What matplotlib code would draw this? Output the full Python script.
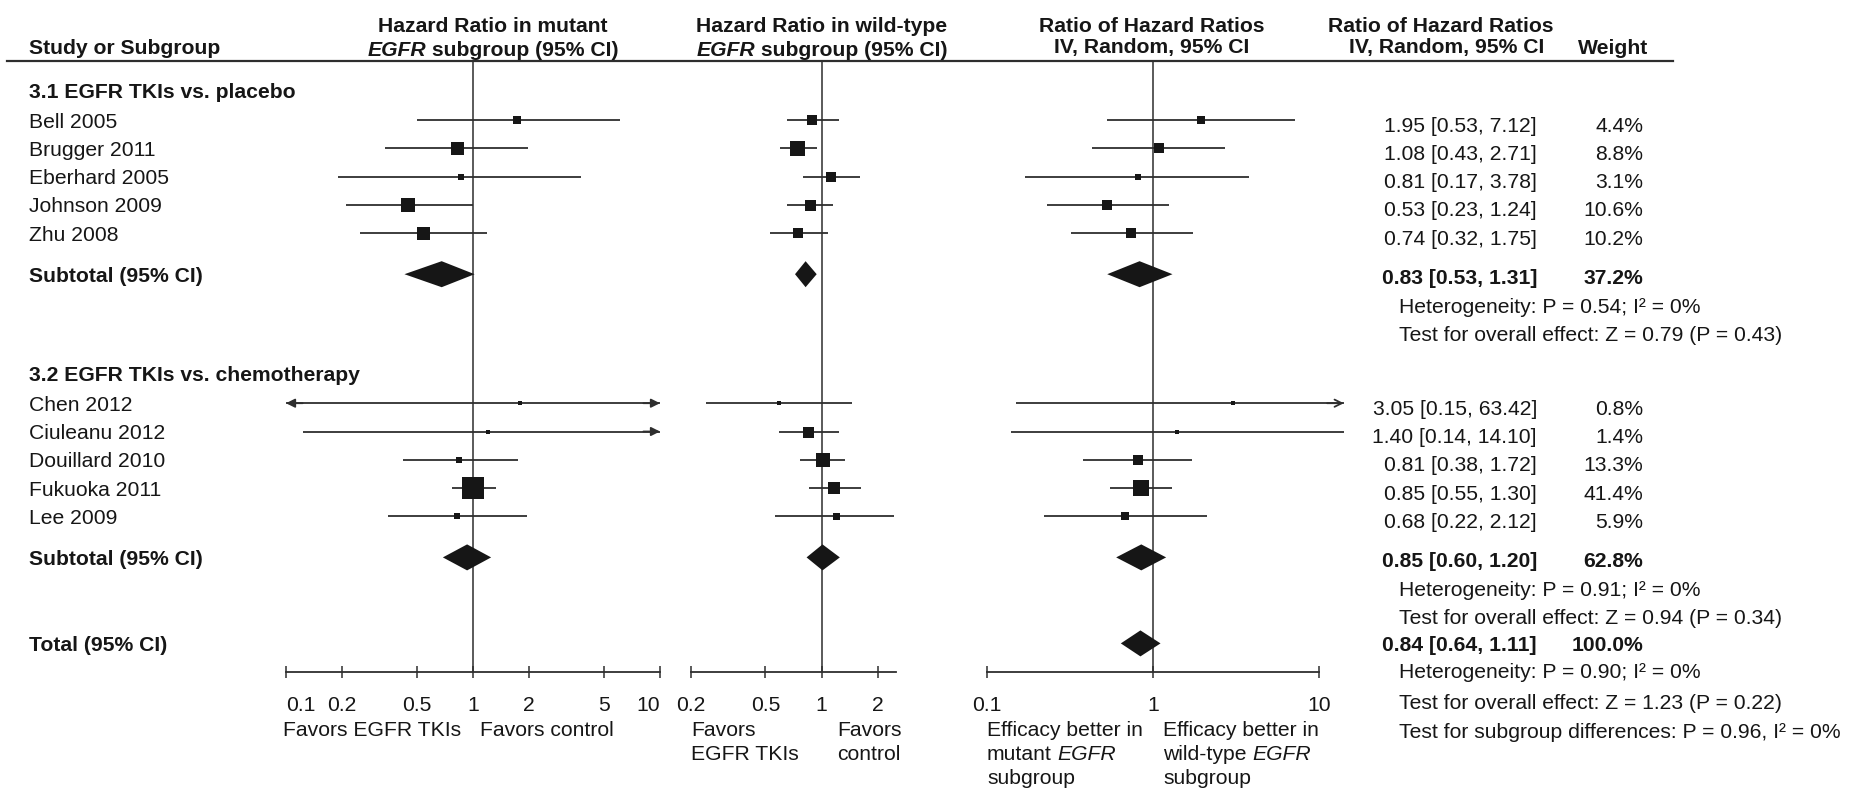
import numpy as np
import matplotlib
matplotlib.use("Agg")
import matplotlib.pyplot as plt
from matplotlib.ticker import NullLocator

# ---------------------------------------------------------------- data
GROUP_TITLES = ["3.1 EGFR TKIs vs. placebo", "3.2 EGFR TKIs vs. chemotherapy"]
STUDIES = [
    ["Bell 2005", "Brugger 2011", "Eberhard 2005", "Johnson 2009", "Zhu 2008"],
    ["Chen 2012", "Ciuleanu 2012", "Douillard 2010", "Fukuoka 2011", "Lee 2009"],
]

# hazard ratio in the mutant EGFR subgroup
MUT_HR = [[1.72, 0.82, 0.86, 0.45, 0.54], [1.78, 1.20, 0.84, 1.00, 0.82]]
MUT_LO = [[0.50, 0.34, 0.19, 0.21, 0.25], [0.08, 0.124, 0.42, 0.77, 0.35]]
MUT_HI = [[6.10, 1.97, 3.80, 1.00, 1.19], [40.0, 12.0, 1.74, 1.33, 1.95]]
MUT_SUB = [(0.68, 0.43, 1.02), (0.93, 0.69, 1.25)]

# hazard ratio in the wild-type EGFR subgroup
WT_HR = [[0.885, 0.74, 1.12, 0.87, 0.75], [0.59, 0.84, 1.01, 1.17, 1.19]]
WT_LO = [[0.65, 0.60, 0.79, 0.65, 0.53], [0.24, 0.59, 0.77, 0.85, 0.56]]
WT_HI = [[1.23, 0.94, 1.60, 1.15, 1.08], [1.45, 1.23, 1.33, 1.62, 2.45]]
WT_SUB = [(0.82, 0.72, 0.94), (1.01, 0.83, 1.25)]

# ratio of hazard ratios, IV random effects
RATIO = [[1.95, 1.08, 0.81, 0.53, 0.74], [3.05, 1.40, 0.81, 0.85, 0.68]]
RATIO_LO = [[0.53, 0.43, 0.17, 0.23, 0.32], [0.15, 0.14, 0.38, 0.55, 0.22]]
RATIO_HI = [[7.12, 2.71, 3.78, 1.24, 1.75], [63.42, 14.10, 1.72, 1.30, 2.12]]
WEIGHT = [[4.4, 8.8, 3.1, 10.6, 10.2], [0.8, 1.4, 13.3, 41.4, 5.9]]
RATIO_SUB = [(0.83, 0.53, 1.31), (0.85, 0.60, 1.20)]
WEIGHT_SUB = [37.2, 62.8]
RATIO_TOTAL = (0.84, 0.64, 1.11)
WEIGHT_TOTAL = 100.0

HETEROGENEITY = ["Heterogeneity: P = 0.54; I² = 0%", "Heterogeneity: P = 0.91; I² = 0%"]
OVERALL = ["Test for overall effect: Z = 0.79 (P = 0.43)",
           "Test for overall effect: Z = 0.94 (P = 0.34)"]
TOTAL_NOTES = ["Heterogeneity: P = 0.90; I² = 0%",
               "Test for overall effect: Z = 1.23 (P = 0.22)",
               "Test for subgroup differences: P = 0.96, I² = 0%"]

TICKS_MUT = [0.1, 0.2, 0.5, 1, 2, 5, 10]
TICKS_WT = [0.2, 0.5, 1, 2]
TICKS_RATIO = [0.1, 1, 10]

# ---------------------------------------------------------------- style
W, H = 1865, 790
FS = 15.2
FONT_PX = FS * 100 / 72
SPACE_PX = 0.278 * FONT_PX
PT = 0.72                      # points per pixel at dpi 100
INK = "#161616"
LINE = "#2e2e2e"

# box sides (px) for the two subgroup panels
MUT_BOX = [[8, 13, 6, 14, 13], [4, 4, 6, 22, 6]]
WT_BOX = [[10, 15, 10, 11, 10], [5, 11, 14, 12, 7]]

plt.rcParams["font.family"] = ["Liberation Sans", "DejaVu Sans"]
plt.rcParams["font.size"] = FS
plt.rcParams["text.color"] = INK

RULE_Y = 61
AXIS_Y = 672
STEP = 28.3
BASE = 7.5                     # half cap height, row centre -> baseline

# row layout (px from top)
group_y, study_y, sub_y, het_y, test_y = [], [], [], [], []
y = 90
for g in range(2):
    group_y.append(y)
    study_y.append([y + 30 + STEP * i for i in range(len(STUDIES[g]))])
    sub_y.append(study_y[g][-1] + 41)
    het_y.append(sub_y[g] + 31)
    test_y.append(het_y[g] + 28)
    y = test_y[g] + 40
total_y = test_y[1] + 27
total_note_y = [total_y + 27, total_y + 58, total_y + 87]

fig = plt.figure(figsize=(W / 100, H / 100), dpi=100)
bg = fig.add_axes([0, 0, 1, 1])
bg.set_xlim(0, W)
bg.set_ylim(H, 0)
bg.axis("off")
renderer = fig.canvas.get_renderer()


def text_runs(ax, x, y, runs, ha="left"):
    """Write pieces with different styles side by side on one baseline."""
    items = []
    for s, style in runs:
        t = ax.text(0, y, s, va="baseline", ha="left", **style)
        items.append((t, t.get_window_extent(renderer).width))
    total = sum(w for _, w in items) + SPACE_PX * (len(items) - 1)
    x0 = x - total / 2 if ha == "center" else x
    for t, w in items:
        t.set_x(x0)
        x0 += w + SPACE_PX


def make_panel(left, lo, hi, decade, bounds, ticks):
    width = decade * np.log10(hi / lo)
    ax = fig.add_axes([left / W, 0, width / W, 1])
    ax.set_xscale("log")
    ax.set_xlim(lo, hi)
    ax.set_ylim(H, 0)
    ax.patch.set_visible(False)
    for side in ("top", "left", "right"):
        ax.spines[side].set_visible(False)
    ax.spines["bottom"].set_position(("data", AXIS_Y))
    ax.spines["bottom"].set_bounds(*bounds)
    ax.spines["bottom"].set_linewidth(1.3)
    ax.spines["bottom"].set_color(LINE)
    ax.set_xticks(ticks)
    ax.xaxis.set_minor_locator(NullLocator())
    ax.tick_params(axis="x", direction="inout", length=9, width=1.1,
                   color=LINE, labelbottom=False)
    ax.set_yticks([])
    ax.vlines(1, RULE_Y, AXIS_Y, color=LINE, lw=1.1, zorder=1)
    return ax


def draw_ci(ax, est, lo, hi, y, box, head="-|>"):
    xmin, xmax = ax.get_xlim()
    a, b = max(lo, xmin), min(hi, xmax)
    ax.plot([a, b], [y, y], color=LINE, lw=1.3, solid_capstyle="butt", zorder=2)
    arrow = dict(arrowstyle=head, color=LINE, lw=1.3, mutation_scale=13,
                 shrinkA=0, shrinkB=0)
    if lo < xmin:
        ax.annotate("", xy=(xmin, y), xytext=(12, 0), textcoords="offset points",
                    arrowprops=arrow, annotation_clip=False)
    if hi > xmax:
        ax.annotate("", xy=(xmax, y), xytext=(-12, 0), textcoords="offset points",
                    arrowprops=arrow, annotation_clip=False)
    ax.plot(est, y, marker="s", ms=box * PT, color=INK, mew=0, zorder=3)


def draw_diamond(ax, est, lo, hi, y, half=13):
    ax.fill([lo, est, hi, est], [y, y - half, y, y + half], color=INK, lw=0, zorder=3)


def tick_labels(ax, ticks, aligns):
    for t, ha in zip(ticks, aligns):
        ax.text(t, AXIS_Y + 39, f"{t:g}", ha=ha, va="baseline")


ax_mut = make_panel(286, 0.1, 10, 187, (0.1, 10), TICKS_MUT)
ax_wt = make_panel(691, 0.2, 2.5, 187, (0.2, 2.5), TICKS_WT)
ax_ratio = make_panel(987, 0.1, 14.1, 166, (0.1, 10), TICKS_RATIO)

tick_labels(ax_mut, TICKS_MUT, ["left"] + ["center"] * 5 + ["right"])
tick_labels(ax_wt, TICKS_WT, ["center"] * 4)
tick_labels(ax_ratio, TICKS_RATIO, ["center"] * 3)

# header
bold = dict(weight="bold")
bold_it = dict(weight="bold", style="italic")
bg.plot([7, 1673], [RULE_Y, RULE_Y], color=LINE, lw=1.6)
bg.text(29, 47 + BASE, "Study or Subgroup", va="baseline", **bold)
bg.text(493, 24 + BASE, "Hazard Ratio in mutant", ha="center", va="baseline", **bold)
text_runs(bg, 493, 48 + BASE, [("EGFR", bold_it), ("subgroup (95% CI)", bold)], ha="center")
bg.text(822, 24 + BASE, "Hazard Ratio in wild-type", ha="center", va="baseline", **bold)
text_runs(bg, 822, 48 + BASE, [("EGFR", bold_it), ("subgroup (95% CI)", bold)], ha="center")
bg.text(1152, 24 + BASE, "Ratio of Hazard Ratios", ha="center", va="baseline", **bold)
bg.text(1152, 46 + BASE, "IV, Random, 95% CI", ha="center", va="baseline", **bold)
bg.text(1441, 24 + BASE, "Ratio of Hazard Ratios", ha="center", va="baseline", **bold)
bg.text(1544, 46 + BASE, "IV, Random, 95% CI", ha="right", va="baseline", **bold)
bg.text(1613, 46 + BASE, "Weight", ha="center", va="baseline", **bold)

CI_RIGHT, W_RIGHT, NOTE_X, SHIFT = 1537, 1643, 1399, 4

for g in range(2):
    bg.text(29, group_y[g] + BASE, GROUP_TITLES[g], va="baseline", **bold)
    for i, name in enumerate(STUDIES[g]):
        ys = study_y[g][i]
        bg.text(29, ys + BASE, name, va="baseline")
        draw_ci(ax_mut, MUT_HR[g][i], MUT_LO[g][i], MUT_HI[g][i], ys, MUT_BOX[g][i])
        draw_ci(ax_wt, WT_HR[g][i], WT_LO[g][i], WT_HI[g][i], ys, WT_BOX[g][i])
        box = 2.2 + 2.3 * np.sqrt(WEIGHT[g][i])
        draw_ci(ax_ratio, RATIO[g][i], RATIO_LO[g][i], RATIO_HI[g][i], ys, box, head="->")
        bg.text(CI_RIGHT, ys + BASE + SHIFT,
                f"{RATIO[g][i]:.2f} [{RATIO_LO[g][i]:.2f}, {RATIO_HI[g][i]:.2f}]",
                ha="right", va="baseline")
        bg.text(W_RIGHT, ys + BASE + SHIFT, f"{WEIGHT[g][i]:.1f}%", ha="right", va="baseline")

    ys = sub_y[g]
    bg.text(29, ys + BASE, "Subtotal (95% CI)", va="baseline", **bold)
    draw_diamond(ax_mut, *MUT_SUB[g], ys)
    draw_diamond(ax_wt, *WT_SUB[g], ys)
    draw_diamond(ax_ratio, *RATIO_SUB[g], ys)
    est, lo, hi = RATIO_SUB[g]
    bg.text(CI_RIGHT, ys + BASE + 2, f"{est:.2f} [{lo:.2f}, {hi:.2f}]",
            ha="right", va="baseline", **bold)
    bg.text(W_RIGHT, ys + BASE + 2, f"{WEIGHT_SUB[g]:.1f}%", ha="right", va="baseline", **bold)
    bg.text(NOTE_X, het_y[g] + BASE, HETEROGENEITY[g], va="baseline")
    bg.text(NOTE_X, test_y[g] + BASE, OVERALL[g], va="baseline")

# overall pooled estimate
bg.text(29, total_y + BASE, "Total (95% CI)", va="baseline", **bold)
draw_diamond(ax_ratio, *RATIO_TOTAL, total_y)
est, lo, hi = RATIO_TOTAL
bg.text(CI_RIGHT, total_y + BASE, f"{est:.2f} [{lo:.2f}, {hi:.2f}]",
        ha="right", va="baseline", **bold)
bg.text(W_RIGHT, total_y + BASE, f"{WEIGHT_TOTAL:.1f}%", ha="right", va="baseline", **bold)
for note, yn in zip(TOTAL_NOTES, total_note_y):
    bg.text(NOTE_X, yn + BASE, note, va="baseline")

# direction labels under the axes
L1, L2, L3 = 736, 760, 784
bg.text(283, L1, "Favors EGFR TKIs", va="baseline")
bg.text(480, L1, "Favors control", va="baseline")
bg.text(691, L1, "Favors", va="baseline")
bg.text(691, L2, "EGFR TKIs", va="baseline")
bg.text(837, L1, "Favors", va="baseline")
bg.text(837, L2, "control", va="baseline")
it = dict(style="italic")
for x0, first in ((987, "mutant"), (1163, "wild-type")):
    bg.text(x0, L1, "Efficacy better in", va="baseline")
    text_runs(bg, x0, L2, [(first, {}), ("EGFR", it)])
    bg.text(x0, L3, "subgroup", va="baseline")

fig.savefig("out.png", dpi=100)
